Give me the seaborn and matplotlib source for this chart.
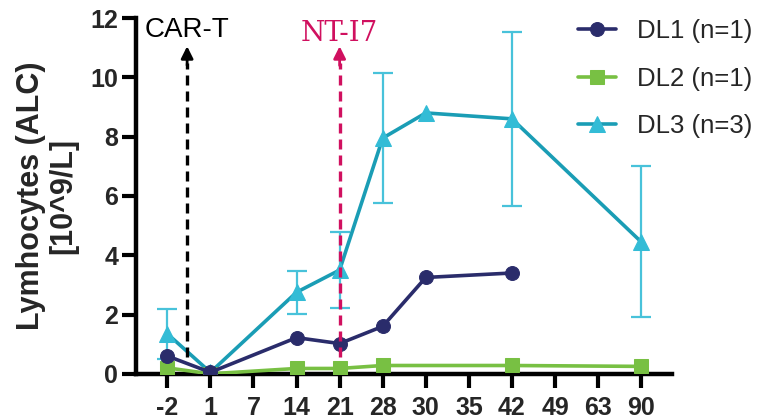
import numpy as np
import pandas as pd
import matplotlib
matplotlib.use("Agg")
import matplotlib.pyplot as plt
import seaborn as sns

# Days after infusion (categorical axis)
days = ["-2", "1", "7", "14", "21", "28", "30", "35", "42", "49", "63", "90"]

# Absolute lymphocyte counts [10^9/L]
dl1_days = ["-2", "1", "14", "21", "28", "30", "42"]
dl1_vals = [0.60, 0.05, 1.22, 1.02, 1.60, 3.25, 3.40]

dl2_days = ["-2", "1", "14", "21", "28", "42", "90"]
dl2_vals = [0.20, 0.00, 0.18, 0.18, 0.28, 0.28, 0.25]

dl3_days = ["-2", "1", "14", "21", "28", "30", "42", "90"]
dl3_vals = [1.35, 0.05, 2.75, 3.50, 7.95, 8.80, 8.60, 4.45]
dl3_sd = [0.85, 0.00, 0.73, 1.28, 2.18, 0.00, 2.93, 2.55]

series_names = ["DL1 (n=1)", "DL2 (n=1)", "DL3 (n=3)"]

pos = {d: i for i, d in enumerate(days)}

sns.set_style("ticks")
plt.rcParams["font.family"] = ["Liberation Sans", "DejaVu Sans"]

fig = plt.figure(figsize=(7.7, 4.2), dpi=100)
ax = fig.add_axes([0.177, 0.11, 0.696, 0.847])

c1, c2 = "#2a2c6b", "#78c043"
c3_line, c3_mark, c3_err = "#1a9db5", "#33bcd6", "#48c2da"

df3 = pd.DataFrame({"x": [pos[d] for d in dl3_days], "y": dl3_vals, "sd": dl3_sd})
df2 = pd.DataFrame({"x": [pos[d] for d in dl2_days], "y": dl2_vals})
df1 = pd.DataFrame({"x": [pos[d] for d in dl1_days], "y": dl1_vals})

# DL3 with SD error bars (only where a spread was recorded)
eb = df3[df3["sd"] > 0]
ax.errorbar(eb["x"], eb["y"], yerr=eb["sd"], fmt="none", ecolor=c3_err,
            elinewidth=1.6, capsize=7, capthick=1.6, zorder=2)
sns.lineplot(data=df3, x="x", y="y", ax=ax, color=c3_line, lw=2.6,
             marker="^", markersize=11, markerfacecolor=c3_mark,
             markeredgecolor=c3_mark, label=series_names[2], zorder=3)
sns.lineplot(data=df2, x="x", y="y", ax=ax, color=c2, lw=2.6,
             marker="s", markersize=10, markerfacecolor=c2,
             markeredgecolor=c2, label=series_names[1], zorder=4)
sns.lineplot(data=df1, x="x", y="y", ax=ax, color=c1, lw=2.6,
             marker="o", markersize=10, markerfacecolor=c1,
             markeredgecolor=c1, label=series_names[0], zorder=5)

# Treatment arrows
def dashed_arrow(x, color):
    ax.plot([x, x], [0.57, 10.5], ls=(0, (3.0, 1.8)), lw=2.4, color=color,
            zorder=6, clip_on=False)
    ax.annotate("", xy=(x, 11.05), xytext=(x, 10.4),
                arrowprops=dict(arrowstyle="-|>", color=color, lw=2.0,
                                mutation_scale=18, shrinkA=0, shrinkB=0),
                zorder=6, annotation_clip=False)

dashed_arrow(0.46, "black")
dashed_arrow(4.0, "#d0105f")
ax.text(0.46, 11.15, "CAR-T", ha="center", va="bottom", fontsize=20,
        color="black", clip_on=False)
ax.text(4.0, 11.03, "NT-I7", ha="center", va="bottom", fontsize=20,
        color="#d0105f", family=["DejaVu Serif"], clip_on=False)

ax.set_xlim(-0.72, 11.72)
ax.set_ylim(0, 12)
ax.set_xticks(range(len(days)))
ax.set_xticklabels(days)
ax.set_yticks([0, 2, 4, 6, 8, 10, 12])
ax.set_xlabel("")
ax.set_ylabel("Lymhocytes (ALC)\n[10^9/L]", fontsize=22, fontweight="bold",
              linespacing=1.1)
ax.yaxis.set_label_coords(-0.108, 0.5)
for lab in ax.get_xticklabels() + ax.get_yticklabels():
    lab.set_fontweight("bold")
ax.tick_params(axis="both", labelsize=18, width=3, length=10, color="black")
ax.tick_params(axis="y", pad=3)
ax.tick_params(axis="x", pad=6)
for side in ["left", "bottom"]:
    ax.spines[side].set_linewidth(3.2)
    ax.spines[side].set_color("black")
sns.despine(ax=ax)

handles, labels = ax.get_legend_handles_labels()
order = [labels.index(n) for n in series_names]
ax.legend([handles[i] for i in order], [labels[i] for i in order],
          loc="upper left", bbox_to_anchor=(0.737, 0.98), bbox_transform=fig.transFigure,
          frameon=False, fontsize=18.5, labelspacing=0.93, handlelength=1.5,
          handletextpad=0.8, borderaxespad=0)

fig.savefig("out.png", dpi=100)
